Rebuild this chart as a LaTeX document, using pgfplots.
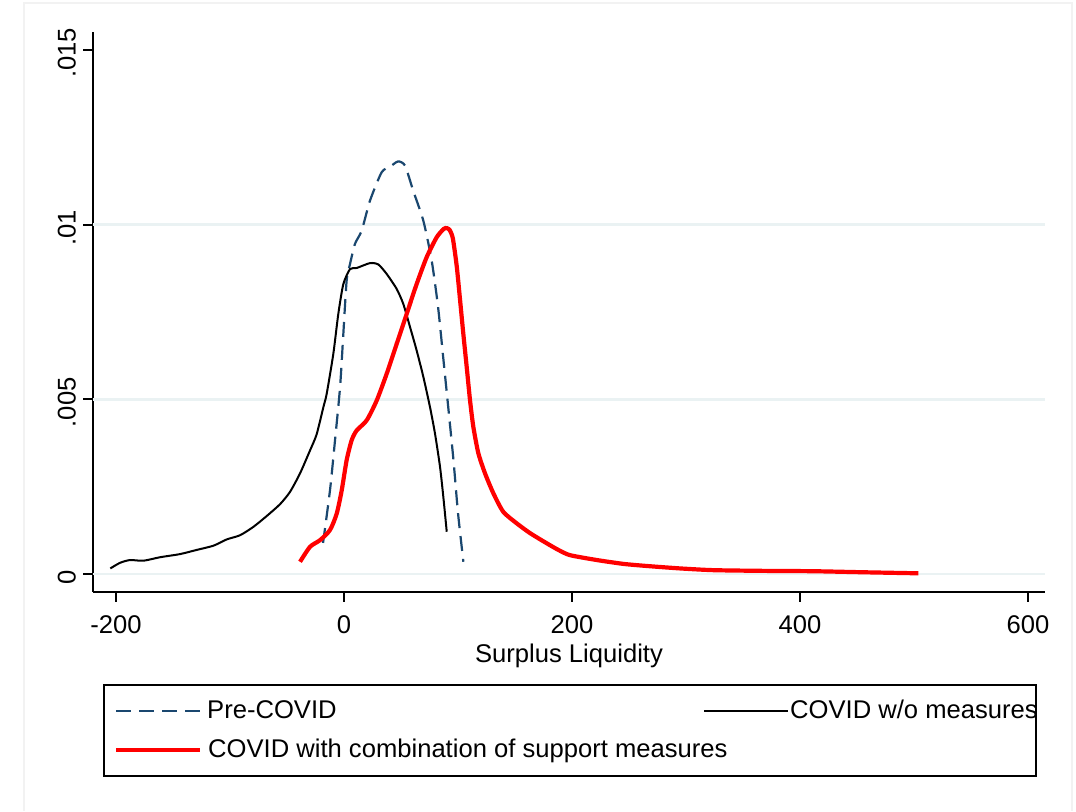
\documentclass[border=0pt]{standalone}
\usepackage{pgfplots}
\pgfplotsset{compat=1.18}
\usepackage{fontspec}
\setmainfont{Liberation Sans}
\definecolor{statanavy}{HTML}{1A476F}
\definecolor{gridc}{HTML}{EAF2F3}
\newcommand{\lblfont}{\fontsize{12.8}{15}\selectfont}

\begin{document}
\begin{tikzpicture}
\useasboundingbox (0,0) rectangle (538pt,-405.5pt);
\fill[white] (0,0) rectangle (538pt,-405.5pt);
\draw[line width=0.6pt, black!5] (12pt,-405.5pt) -- (12pt,-1.5pt) -- (536pt,-1.5pt) -- (536pt,-405.5pt);
\begin{axis}[
  at={(46.5pt,-295.85pt)}, anchor=south west,
  scale only axis, width=476pt, height=279.85pt,
  xmin=-220.2, xmax=614.9, ymin=-0.000507, ymax=0.015515,
  axis x line*=bottom, axis y line*=left,
  axis line style={line width=0.85pt,-},
  tick align=outside, major tick length=5pt,
  tick style={line width=0.85pt, black},
  xtick={-200,0,200,400,600}, xticklabels={-200,0,200,400,600},
  ytick={0,0.005,0.01,0.015}, yticklabels={0,.005,.01,.015},
  scaled y ticks=false,
  ticklabel style={font=\lblfont},
  xticklabel style={yshift=-3.5pt},
  yticklabel style={rotate=90, anchor=south, xshift=-1.5pt},
  xlabel={Surplus Liquidity}, xlabel style={font=\lblfont, yshift=2pt},
  extra y ticks={0,0.005,0.01}, extra y tick labels={},
  extra y tick style={grid=major, major tick length=0pt,
    major grid style={gridc, line width=1.3pt}},
  legend columns=2, legend cell align=left,
  legend image code/.code={\draw[#1] (0pt,0pt) -- (42pt,0pt);},
  legend style={at={(0.0105,-0.165)}, anchor=north west, draw=black,
    line width=1pt, inner xsep=5pt, inner ysep=5pt, font=\lblfont,
    /tikz/column sep=0pt, /tikz/row sep=3.5pt,
    nodes={inner xsep=0pt, text height=9.5pt, text depth=2.5pt}},
]
\addplot[statanavy, line width=1.1pt, dash pattern=on 7.5pt off 4pt, smooth, tension=0.4] coordinates {
(-18.4,0.00089) (-12.3,0.0024) (-7.9,0.00383) (-3.5,0.00534) (-0.6,0.00688)
(2.3,0.0084) (5.3,0.00888) (9.6,0.00945) (15.5,0.00983) (22.8,0.01069)
(33,0.0115) (40.4,0.01166) (47.4,0.01181) (53.5,0.01169) (60.7,0.01097)
(69.6,0.01011) (76.9,0.00897) (82.5,0.00764) (87,0.0062) (91.4,0.00478)
(96,0.00326) (100,0.00174) (104.7,0.00035)};
\addlegendentry{\makebox[250.5pt][l]{\hspace{2.5pt}Pre-COVID}}
\addplot[black, line width=1pt, smooth, tension=0.4] coordinates {
(-205,0.00016) (-196.5,0.00032) (-187.7,0.0004) (-176,0.00038) (-161.4,0.00048)
(-143.9,0.00057) (-129.2,0.00069) (-114.6,0.00081) (-102.9,0.00099) (-91.2,0.00111)
(-79.5,0.00135) (-67.8,0.00166) (-56.1,0.002) (-47.4,0.00235) (-38.6,0.00288)
(-29.8,0.00354) (-24,0.004) (-18.1,0.00478) (-15.2,0.00516) (-9.4,0.0063)
(-5,0.00745) (-0.6,0.0083) (5.3,0.00873) (11.1,0.00876) (22.8,0.0089)
(30.1,0.00886) (37.4,0.00859) (46.2,0.00816) (52,0.00773) (57.9,0.00707)
(63.7,0.0064) (69.6,0.00564) (75.4,0.00478) (79.8,0.00402) (84.2,0.00307)
(87.1,0.00221) (90.1,0.00121)};
\addlegendentry{\makebox[118.5pt][l]{\hspace{0.5pt}COVID w/o measures}}
\addplot[red, line width=2.1pt, smooth, tension=0.4] coordinates {
(-38.6,0.00035) (-29.8,0.00078) (-21,0.00097) (-12.3,0.00126) (-6.4,0.00173)
(-2,0.0024) (2.3,0.00326) (6.7,0.00383) (11.1,0.00411) (19.9,0.0044)
(28.7,0.00497) (37.4,0.00573) (46.2,0.00659) (55,0.00745) (63.7,0.0083)
(72.5,0.00907) (81.3,0.00964) (87.5,0.00988) (90.3,0.0099) (92.8,0.00984)
(95.5,0.0096) (98.9,0.0088) (101.8,0.00784) (104.6,0.00689) (107.6,0.00593)
(110.5,0.00498) (113.4,0.00422) (117.8,0.00346) (123.7,0.00288) (131,0.00231)
(139.7,0.00178) (151.5,0.00145) (163.2,0.00117) (177.8,0.00088) (188,0.00069)
(198.2,0.00054) (221.7,0.0004) (245,0.00029) (265.5,0.00023) (294.7,0.00016)
(324,0.00011) (367.8,0.00009) (411.6,0.00008) (455.5,0.00005) (503.8,0.00002)};
\addlegendentry{\rlap{\hspace{2.5pt}COVID with combination of support measures}}
\end{axis}
\end{tikzpicture}
\end{document}
